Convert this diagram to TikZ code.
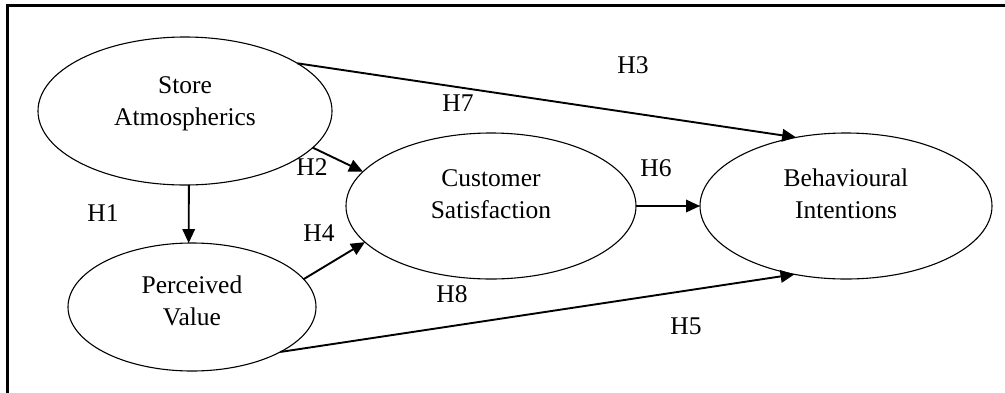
\documentclass[tikz,border=0pt]{standalone}
\usepackage{fontspec}
\setmainfont{Liberation Serif}
\usetikzlibrary{shapes.geometric,arrows.meta}
\begin{document}
\begin{tikzpicture}[x=1pt,y=-1pt,
  ell/.style 2 args={draw, ellipse, line width=1.1pt, minimum width=#1, minimum height=#2, inner sep=0pt, outer sep=0pt},
  txt/.style={align=center, font=\fontsize{25.5}{32}\selectfont, inner sep=0pt},
  hl/.style={font=\fontsize{25.5}{32}\selectfont, inner sep=0pt},
  arr/.style={-{Triangle[length=14pt,width=12.5pt]}, line width=1.9pt}]
\useasboundingbox (0,0) rectangle (1005,392);
\fill[white] (0,0) rectangle (1005,392);
\draw[line width=2.5pt, line join=miter] (7.5,394) -- (7.5,5.5) -- (1007,5.5);
% ellipses
\node[ell={294pt}{148pt}] (sa) at (185,111) {};
\node[ell={248pt}{128pt}] (pv) at (192,307) {};
\node[ell={290pt}{146pt}] (cs) at (491,206) {};
\node[ell={292pt}{146pt}] (bi) at (846,206) {};
% texts
\node[txt] (sat) at (185,104) {Store\\Atmospherics};
\node[txt] (pvt) at (192,301) {Perceived\\Value};
\node[txt] (cst) at (491,194) {Customer\\Satisfaction};
\node[txt] (bit) at (846,194) {Behavioural\\Intentions};
% connectors
\draw[arr] (sa.23.9) -- (bi.126.9);
\draw[arr] (sa.-16.7) -- (cs.165.2);
\draw[arr] (sa.-87.7) -- (pv.93.6);
\draw[arr] (pv.14) -- (cs.196.8);
\draw[arr] (pv.-27.6) -- (bi.233.1);
\draw[arr] (cs.east) -- (bi.west);
% hypothesis labels
\node[hl] (h1) at (103,213) {H1};
\node[hl] (h2) at (312,167) {H2};
\node[hl] (h3) at (633,65) {H3};
\node[hl] (h4) at (319,233) {H4};
\node[hl] (h5) at (686,326) {H5};
\node[hl] (h6) at (656,168) {H6};
\node[hl] (h7) at (458,103) {H7};
\node[hl] (h8) at (452,294) {H8};
\end{tikzpicture}
\end{document}
